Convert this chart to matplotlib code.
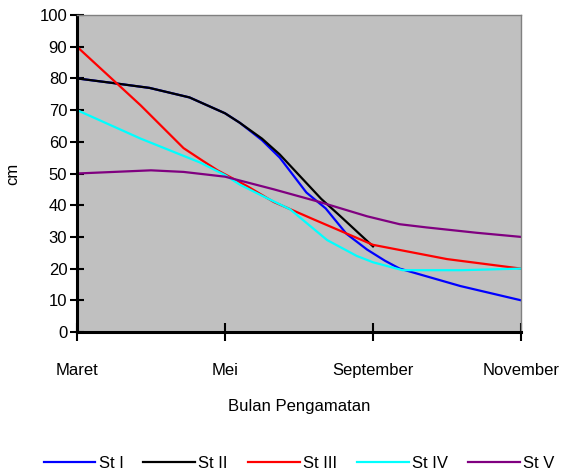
import numpy as np
import matplotlib
matplotlib.use("Agg")
import matplotlib.pyplot as plt

plt.rcParams['font.family'] = ['Liberation Sans', 'DejaVu Sans']

# category axis: 0 = Maret, 1 = Mei, 2 = September, 3 = November
months = ['Maret', 'Mei', 'September', 'November']

# values (x in category units, y in cm)
st1_x = [0, 0.25, 0.49, 0.76, 1.0, 1.1, 1.25, 1.37, 1.55, 1.68, 1.82, 1.96, 2.08, 2.18, 2.59, 3.0]
st1_y = [80, 78.5, 77, 74, 69, 66, 60.5, 55, 44, 39, 31, 26, 22.5, 20, 14.5, 10]

st2_x = [0, 0.25, 0.49, 0.76, 1.0, 1.1, 1.25, 1.37, 1.65, 1.78, 2.0]
st2_y = [80, 78.5, 77, 74, 69, 66, 61, 56, 42, 36.5, 27]

st3_x = [0, 0.43, 0.72, 0.85, 0.95, 1.15, 1.33, 1.6, 2.0, 2.5, 3.0]
st3_y = [90, 71.5, 58, 54, 51, 46, 41, 35.5, 27.5, 23, 20]

st4_x = [0, 0.43, 0.83, 1.0, 1.1, 1.25, 1.44, 1.69, 1.89, 2.0, 2.2, 2.6, 3.0]
st4_y = [70, 61, 53.5, 49.5, 46.5, 43, 38.7, 29, 24, 22, 19.5, 19.5, 20]

st5_x = [0, 0.25, 0.5, 0.72, 1.0, 1.33, 1.64, 1.96, 2.18, 2.36, 2.7, 3.0]
st5_y = [50, 50.5, 51, 50.5, 49, 45, 41, 36.5, 34, 33, 31.3, 30]

labels = ['St I', 'St II', 'St III', 'St IV', 'St V']
colors = ['#0000ff', '#000000', '#ff0000', '#00ffff', '#800080']

fig = plt.figure(figsize=(5.63, 4.76), dpi=100)
ax = fig.add_axes([77/563, 1-332/476, (521-77)/563, (332-15)/476])
ax.set_facecolor('#c0c0c0')

series = [(st1_x, st1_y), (st2_x, st2_y), (st3_x, st3_y), (st4_x, st4_y), (st5_x, st5_y)]
for (xs, ys), lab, c in zip(series, labels, colors):
    ax.plot(xs, ys, color=c, lw=1.6, label=lab, solid_joinstyle='round')

ax.set_xlim(0, 3)
ax.set_ylim(0, 100)
ax.set_xticks(range(len(months)))
ax.set_xticklabels(months)
ax.set_yticks(np.arange(0, 101, 10))

for s in ['left', 'bottom']:
    ax.spines[s].set_linewidth(2.2)
    ax.spines[s].set_color('black')
for s in ['top', 'right']:
    ax.spines[s].set_linewidth(1)
    ax.spines[s].set_color('#808080')

ax.tick_params(axis='x', direction='inout', length=13, width=1.5, pad=16, labelsize=12)
ax.tick_params(axis='y', direction='inout', length=10, width=1.5, pad=2, labelsize=12)

ax.set_xlabel('Bulan Pengamatan', fontsize=12, labelpad=15)
ax.set_ylabel('cm', fontsize=12, labelpad=14)

fig.legend(loc='center', bbox_to_anchor=(299/563, 13/476), ncol=5, frameon=False,
           fontsize=12, handlelength=3.1, handletextpad=0.2, columnspacing=1.2)

fig.savefig('out.png', dpi=100)
